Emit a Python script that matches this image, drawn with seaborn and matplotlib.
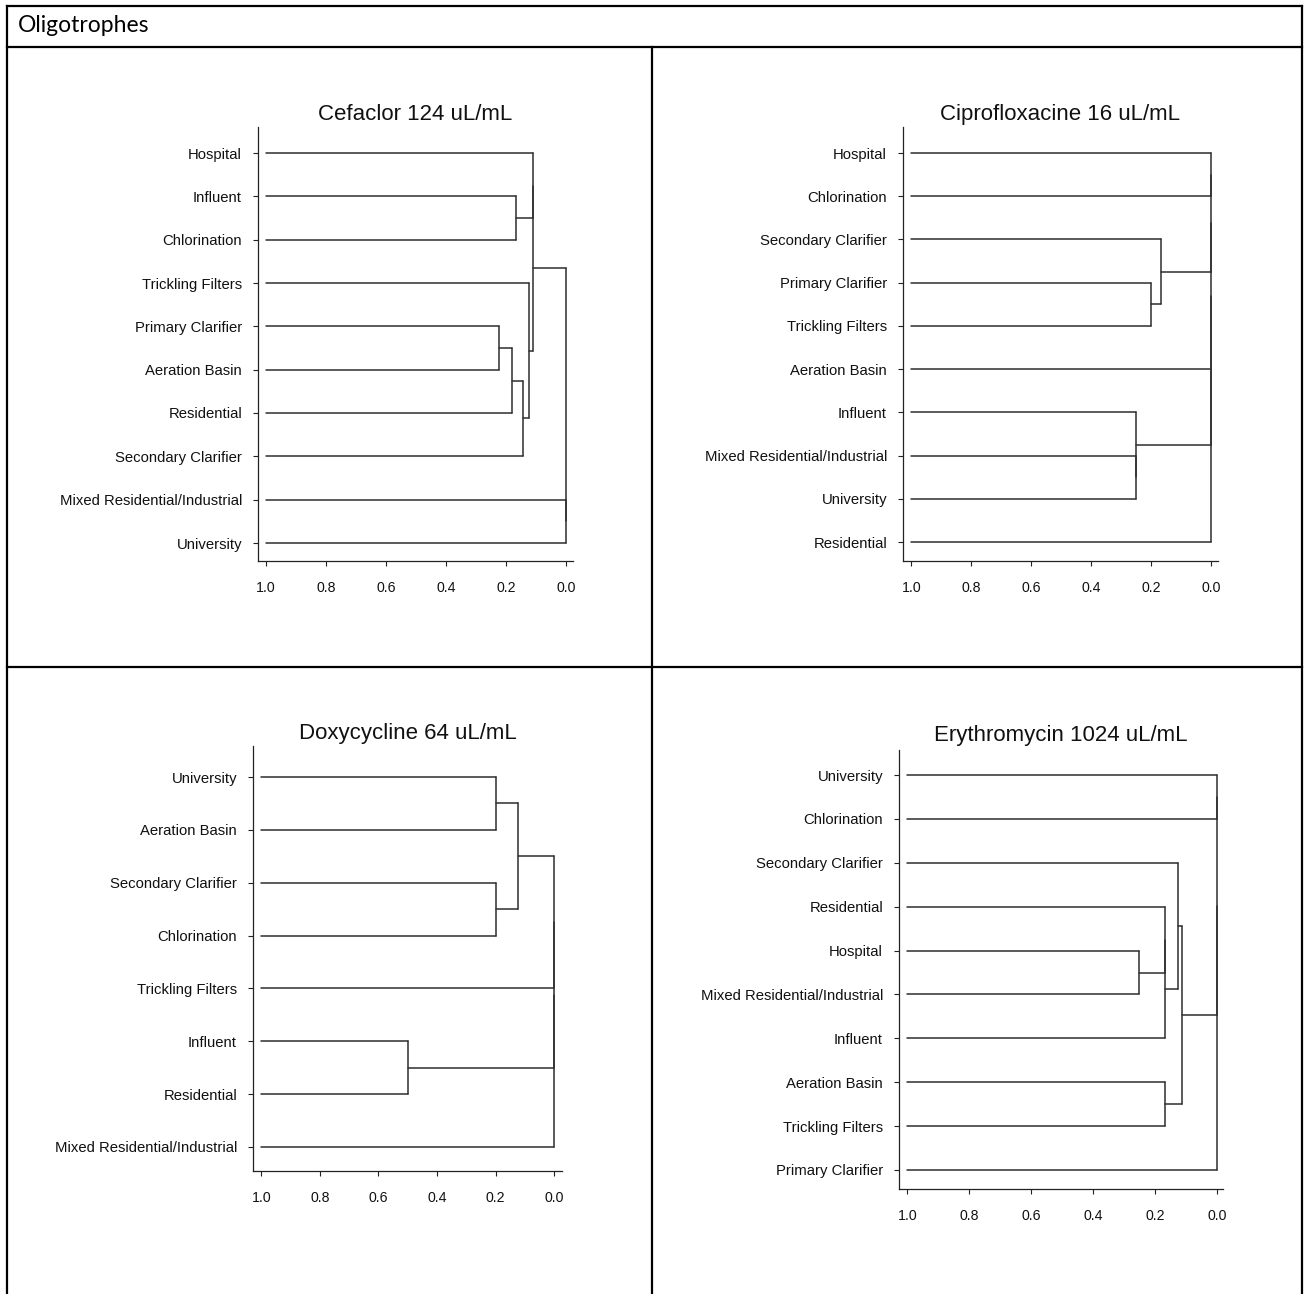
import matplotlib
matplotlib.use("Agg")
import matplotlib.pyplot as plt
from matplotlib.lines import Line2D
import pandas as pd
import seaborn as sns

# ---- cluster trees: leaf order (top to bottom) and merges (child_a, child_b, similarity level)
cefaclor_title = "Cefaclor 124 uL/mL"
cefaclor_leaves = ["Hospital", "Influent", "Chlorination", "Trickling Filters",
                   "Primary Clarifier", "Aeration Basin", "Residential",
                   "Secondary Clarifier", "Mixed Residential/Industrial", "University"]
cefaclor_merges = [
    ("Influent", "Chlorination", 0.165),
    ("Primary Clarifier", "Aeration Basin", 0.222),
    ("m1", "Residential", 0.179),
    ("m2", "Secondary Clarifier", 0.141),
    ("Trickling Filters", "m3", 0.123),
    ("Hospital", "m0", 0.110),
    ("m5", "m4", 0.110),
    ("Mixed Residential/Industrial", "University", 0.0),
    ("m6", "m7", 0.0),
]

cipro_title = "Ciprofloxacine 16 uL/mL"
cipro_leaves = ["Hospital", "Chlorination", "Secondary Clarifier", "Primary Clarifier",
                "Trickling Filters", "Aeration Basin", "Influent",
                "Mixed Residential/Industrial", "University", "Residential"]
cipro_merges = [
    ("Primary Clarifier", "Trickling Filters", 0.200),
    ("Secondary Clarifier", "m0", 0.167),
    ("Mixed Residential/Industrial", "University", 0.250),
    ("Influent", "m2", 0.250),
    ("Hospital", "Chlorination", 0.0),
    ("m4", "m1", 0.0),
    ("m5", "Aeration Basin", 0.0),
    ("m6", "m3", 0.0),
    ("m7", "Residential", 0.0),
]

doxy_title = "Doxycycline 64 uL/mL"
doxy_leaves = ["University", "Aeration Basin", "Secondary Clarifier", "Chlorination",
               "Trickling Filters", "Influent", "Residential",
               "Mixed Residential/Industrial"]
doxy_merges = [
    ("University", "Aeration Basin", 0.200),
    ("Secondary Clarifier", "Chlorination", 0.200),
    ("m0", "m1", 0.123),
    ("Influent", "Residential", 0.500),
    ("m2", "Trickling Filters", 0.0),
    ("m4", "m3", 0.0),
    ("m5", "Mixed Residential/Industrial", 0.0),
]

ery_title = "Erythromycin 1024 uL/mL"
ery_leaves = ["University", "Chlorination", "Secondary Clarifier", "Residential",
              "Hospital", "Mixed Residential/Industrial", "Influent",
              "Aeration Basin", "Trickling Filters", "Primary Clarifier"]
ery_merges = [
    ("Hospital", "Mixed Residential/Industrial", 0.250),
    ("Residential", "m0", 0.167),
    ("m1", "Influent", 0.167),
    ("Secondary Clarifier", "m2", 0.126),
    ("Aeration Basin", "Trickling Filters", 0.167),
    ("m3", "m4", 0.111),
    ("University", "Chlorination", 0.0),
    ("m6", "m5", 0.0),
    ("m7", "Primary Clarifier", 0.0),
]

x_ticks = [1.0, 0.8, 0.6, 0.4, 0.2, 0.0]
header_text = "Oligotrophes"

W, H = 1311, 1294
DPI = 100
LINE = "#2e2e2e"

sns.set_theme(style="white")
plt.rcParams["font.family"] = ["Liberation Sans", "DejaVu Sans"]


def tree_segments(leaves, merges):
    """Elbow segments of a dendrogram; leaves sit at similarity 1.0."""
    pos = {name: (1.0, float(i)) for i, name in enumerate(leaves)}
    rows = []
    seg = 0
    for k, (a, b, h) in enumerate(merges):
        (xa, ya), (xb, yb) = pos[a], pos[b]
        for (x0, y0, x1, y1) in [(xa, ya, h, ya), (xb, yb, h, yb), (h, ya, h, yb)]:
            rows.append({"seg": seg, "x": x0, "y": y0})
            rows.append({"seg": seg, "x": x1, "y": y1})
            seg += 1
        pos[f"m{k}"] = (h, (ya + yb) / 2.0)
    return pd.DataFrame(rows)


def add_panel(fig, leaves, merges, title, box, x_px, y_px, title_pad=5):
    left, top, right, bottom = box
    ax = fig.add_axes([left / W, 1 - bottom / H, (right - left) / W, (bottom - top) / H])
    # map pixel edges to data limits
    sx = (x_px[1] - x_px[0])  # pixels per unit (decreasing values to the right)
    ax.set_xlim(1.0 + (x_px[0] - left) / sx, 0.0 - (right - x_px[1]) / sx)
    n = len(leaves)
    sy = (y_px[1] - y_px[0]) / (n - 1)
    ax.set_ylim((bottom - y_px[0]) / sy, (top - y_px[0]) / sy)

    df = tree_segments(leaves, merges)
    sns.lineplot(data=df, x="x", y="y", units="seg", estimator=None, sort=False,
                 color=LINE, linewidth=1.1, ax=ax, legend=False)

    ax.set_yticks(range(n))
    ax.set_yticklabels(leaves, fontsize=10.7, color="#111111")
    ax.set_xticks(x_ticks)
    ax.set_xticklabels([f"{t:.1f}" for t in x_ticks], fontsize=10.2, color="#111111")
    ax.set_xlabel("")
    ax.set_ylabel("")
    ax.tick_params(axis="y", direction="out", length=3.5, width=0.8, pad=8, colors="#222222",
                   labelcolor="#111111", left=True)
    ax.tick_params(axis="x", direction="out", length=3.5, width=0.8, pad=11, colors="#222222",
                   labelcolor="#111111", bottom=True)
    sns.despine(ax=ax)
    for s in ("left", "bottom"):
        ax.spines[s].set_color("#222222")
        ax.spines[s].set_linewidth(0.9)
    ax.set_title(title, fontsize=16, color="#111111", pad=title_pad)
    ax.patch.set_alpha(0)
    return ax


fig = plt.figure(figsize=(W / DPI, H / DPI), dpi=DPI)
fig.patch.set_facecolor("white")

add_panel(fig, cefaclor_leaves, cefaclor_merges, cefaclor_title,
          (258, 127, 573, 561), (266, 565.7), (153, 543))
add_panel(fig, cipro_leaves, cipro_merges, cipro_title,
          (903, 127, 1218, 561), (911.3, 1210.7), (153, 542))
add_panel(fig, doxy_leaves, doxy_merges, doxy_title,
          (253, 746, 562, 1171), (261.3, 554.3), (777, 1147))
add_panel(fig, ery_leaves, ery_merges, ery_title,
          (899, 750, 1223, 1189), (907.3, 1216.7), (775, 1170), title_pad=6.5)


# ---- table grid around the panels
def hline(y, x0, x1):
    fig.add_artist(Line2D([x0 / W, x1 / W], [1 - y / H, 1 - y / H], color="black",
                          linewidth=1.6, transform=fig.transFigure, solid_capstyle="projecting"))


def vline(x, y0, y1):
    fig.add_artist(Line2D([x / W, x / W], [1 - y0 / H, 1 - y1 / H], color="black",
                          linewidth=1.6, transform=fig.transFigure, solid_capstyle="projecting"))


hline(6, 7, 1302)
hline(47, 7, 1302)
hline(667, 7, 1302)
vline(7, 6, H + 5)
vline(1302, 6, H + 5)
vline(652, 47, H + 5)

fig.text(18 / W, 1 - 26 / H, header_text, fontsize=16.5, family=["Lato", "DejaVu Sans"],
         color="black", ha="left", va="center")

fig.savefig("out.png", dpi=DPI, facecolor="white")
